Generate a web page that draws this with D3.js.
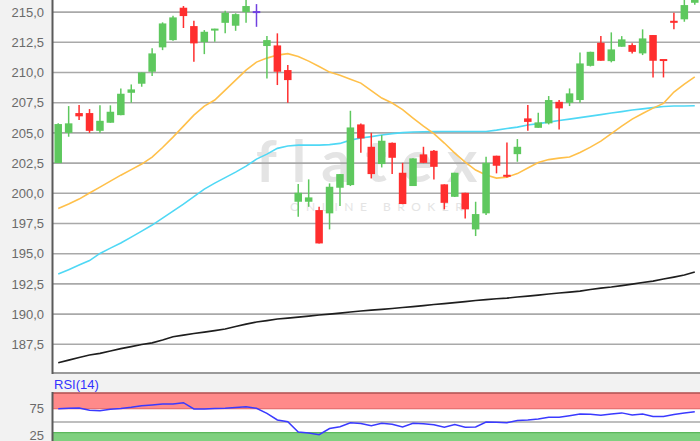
<!DOCTYPE html>
<html><head><meta charset="utf-8">
<script src="https://cdn.jsdelivr.net/npm/d3@7"></script>
<style>html,body{margin:0;padding:0;background:#f2f2f2;}svg{display:block;}</style>
</head><body><svg id="c" width="700" height="441"></svg>
<script>
const sessions = d3.range(62);
const open  = [202.5,205.0,206.64,206.64,205.17,205.84,206.47,208.32,209.07,210.06,212.08,212.68,215.36,213.84,212.52,213.5,214.11,213.87,215.0,215.0,212.19,212.24,210.2,199.3,199.3,198.61,198.34,200.46,200.68,205.7,203.85,202.42,204.18,201.7,200.6,203.22,203.52,200.74,199.71,200.04,197.01,198.34,203.11,201.45,203.24,206.2,205.42,205.79,207.57,207.49,207.72,210.55,212.46,210.94,212.13,212.27,211.58,213.1,211.03,214.28,214.4,215.77];
const high  = [205.8,207.22,207.3,206.97,207.28,207.28,208.68,209.01,210.0,212.0,214.15,214.7,215.5,214.28,213.51,213.62,215.1,214.9,216.2,215.66,213.01,213.24,210.61,200.76,201.15,198.88,200.82,201.6,206.83,205.78,205.01,204.82,204.2,202.52,202.9,203.85,203.58,200.74,201.7,200.04,199.3,203.02,203.11,204.21,204.49,207.3,206.66,208.05,207.72,208.68,211.66,211.72,213.01,213.32,213.01,212.41,213.57,213.1,211.03,214.94,216.1,216.7];
const low   = [202.5,204.68,206.06,205.0,205.0,205.84,206.47,207.5,208.82,209.7,211.85,212.63,213.68,210.89,211.52,212.54,213.24,213.45,214.11,213.78,209.51,208.96,207.49,198.05,198.88,195.85,197.01,198.94,200.6,203.35,201.23,202.14,201.59,199.1,200.6,202.5,201.15,198.67,199.7,197.92,196.46,198.2,201.65,201.3,202.61,205.17,205.42,205.7,205.29,207.22,207.5,210.5,210.97,210.84,212.13,211.58,211.44,209.59,209.59,213.57,214.2,215.6];
const close = [205.73,205.79,206.37,205.17,206.0,206.75,208.24,208.6,210.0,211.58,214.06,214.56,214.67,212.41,213.37,213.55,214.94,214.83,215.5,215.0,212.68,210.06,209.37,200.04,199.66,195.85,200.54,201.59,205.45,204.54,201.59,204.35,202.94,199.11,202.89,202.52,202.19,199.21,201.7,198.67,198.28,202.52,202.28,201.31,203.85,205.91,205.87,207.72,207.03,208.27,210.75,211.71,210.97,211.91,212.74,211.71,212.82,210.97,210.88,214.11,215.58,216.5];
const sma20 = [198.75,199.11,199.52,200.02,200.51,201.01,201.5,201.96,202.42,203.0,203.79,204.65,205.56,206.47,207.22,207.72,208.54,209.37,210.2,210.86,211.19,211.44,211.56,211.32,210.94,210.49,210.03,209.78,209.45,209.12,208.5,207.88,207.47,206.93,206.23,205.56,204.94,204.16,203.33,202.58,201.92,201.51,201.26,201.34,201.63,202.09,202.54,202.79,202.91,203.0,203.37,203.82,204.32,204.94,205.56,206.14,206.6,207.05,207.44,208.38,209.04,209.64];
const sma50 = [193.31,193.68,194.06,194.43,195.02,195.46,195.88,196.37,196.87,197.37,197.95,198.53,199.11,199.73,200.35,200.84,201.3,201.75,202.25,202.83,203.24,203.72,203.91,203.99,203.99,203.99,204.03,204.13,204.4,204.57,204.69,204.82,204.94,205.02,205.07,205.09,205.11,205.12,205.12,205.12,205.12,205.12,205.23,205.36,205.48,205.65,205.77,205.89,206.03,206.14,206.26,206.39,206.51,206.64,206.76,206.89,206.99,207.09,207.18,207.22,207.23,207.25];
const sma200 = [185.97,186.19,186.4,186.61,186.75,186.94,187.14,187.31,187.48,187.62,187.85,188.12,188.26,188.39,188.51,188.63,188.76,188.97,189.17,189.34,189.46,189.59,189.67,189.75,189.83,189.92,190.0,190.08,190.17,190.25,190.33,190.39,190.46,190.54,190.62,190.7,190.79,190.87,190.95,191.03,191.12,191.2,191.27,191.32,191.41,191.49,191.57,191.66,191.74,191.82,191.9,192.03,192.15,192.24,192.36,192.48,192.61,192.73,192.9,193.06,193.23,193.48];
const rsi = [75.1,76.0,76.6,72.1,71.3,74.0,75.5,77.7,80.6,82.1,84.0,84.0,86.4,74.5,74.5,75.5,76.0,77.4,78.7,75.8,66.4,53.8,50.6,31.1,29.2,26.0,37.7,41.1,48.7,47.2,43.0,47.7,45.8,40.6,47.5,46.6,44.9,40.0,45.3,40.0,40.6,50.0,49.4,48.7,52.8,53.8,55.7,59.1,59.1,61.9,65.1,64.5,62.6,65.1,67.2,63.2,65.1,60.4,60.4,64.2,67.0,69.4];
const yTicks = [187.5,190.0,192.5,195.0,197.5,200.0,202.5,205.0,207.5,210.0,212.5,215.0];
const rsiTicks = [75,25];
const rsiLabel = "RSI(14)";

const W = 700, H = 441;
const svg = d3.select("#c");
const fmt = d3.formatLocale({decimal:",",thousands:".",grouping:[3],currency:["","€"]}).format(".1f");

const mL = 53, mR = 700, mT = 0, mB = 373;
const x = d3.scaleBand().domain(sessions).range([mL, mR]).paddingInner(0.28).paddingOuter(0.14);
const y = d3.scaleLinear().domain([185, 216]).range([374.5, 0]);
const cx = i => x(i) + x.bandwidth()/2;

svg.append("rect").attr("x",0).attr("y",0).attr("width",W).attr("height",H).attr("fill","#f2f2f2");
svg.append("rect").attr("x",mL).attr("y",mT).attr("width",mR-mL).attr("height",mB-mT).attr("fill","#ffffff");
svg.append("clipPath").attr("id","mclip").append("rect").attr("x",mL).attr("y",mT).attr("width",mR-mL).attr("height",mB-mT);

// watermark
const wm = svg.append("g").attr("fill","#e4e4e4");
wm.append("text").attr("x",256).attr("y",182).attr("font-family","Lato, 'Open Sans', sans-serif").attr("font-weight",700).attr("font-size",58).attr("letter-spacing",15).text("flatex");
wm.append("text").attr("x",290).attr("y",211).attr("font-family","Lato, sans-serif").attr("font-size",12).attr("letter-spacing",6.5).text("ONLINE BROKER");

// gridlines
svg.append("g").selectAll("line").data(yTicks).join("line")
  .attr("x1",mL).attr("x2",mR).attr("y1",d=>y(d)).attr("y2",d=>y(d))
  .attr("stroke","#a9a9a9").attr("stroke-width",1.6);

svg.append("g").selectAll("text").data(yTicks).join("text")
  .attr("x",44).attr("y",d=>y(d)).attr("dy","0.36em").attr("text-anchor","end")
  .attr("font-family","'Liberation Sans', Arial, sans-serif").attr("font-size",13).attr("fill","#6a6a6a")
  .text(d=>fmt(d));

const plot = svg.append("g").attr("clip-path","url(#mclip)");
const line = arr => d3.line().x((d,i)=>cx(i)).y(d=>y(d))(arr);
plot.append("path").attr("d",line(sma200)).attr("fill","none").attr("stroke","#1e1e1e").attr("stroke-width",1.6);
plot.append("path").attr("d",line(sma50)).attr("fill","none").attr("stroke","#4fd8f5").attr("stroke-width",1.6);
plot.append("path").attr("d",line(sma20)).attr("fill","none").attr("stroke","#ffc04a").attr("stroke-width",1.6);

const col = i => close[i] > open[i] ? "#5ec85e" : (close[i] < open[i] ? "#ff2e2e" : "#7040e0");
const cg = plot.append("g");
cg.selectAll("line").data(sessions).join("line")
  .attr("x1",cx).attr("x2",cx).attr("y1",i=>y(high[i])).attr("y2",i=>y(low[i]))
  .attr("stroke",col).attr("stroke-width",1.5);
cg.selectAll("rect").data(sessions).join("rect")
  .attr("x",i=>x(i)).attr("width",x.bandwidth())
  .attr("y",i=>Math.min(y(open[i]),y(close[i])) - (Math.abs(y(open[i])-y(close[i]))<2?1:0))
  .attr("height",i=>Math.max(2,Math.abs(y(open[i])-y(close[i]))))
  .attr("fill",col);

svg.append("line").attr("x1",mL).attr("x2",mR).attr("y1",mB).attr("y2",mB).attr("stroke","#9a9a9a").attr("stroke-width",2);
svg.append("line").attr("x1",mL-0.5).attr("x2",mL-0.5).attr("y1",0).attr("y2",mB+1).attr("stroke","#5a5a5a").attr("stroke-width",2);

// RSI panel
const rT = 393;
const ry = d3.scaleLinear().domain([0,105]).range([448.5, 392.85]);
svg.append("rect").attr("x",mL).attr("y",rT).attr("width",mR-mL).attr("height",H-rT).attr("fill","#ffffff");
svg.append("rect").attr("x",mL).attr("y",ry(105)).attr("width",mR-mL).attr("height",ry(75)-ry(105)).attr("fill","#ff8a8a");
svg.append("line").attr("x1",mL).attr("x2",mR).attr("y1",ry(75)).attr("y2",ry(75)).attr("stroke","#e06060").attr("stroke-width",1.2);
svg.append("rect").attr("x",mL).attr("y",ry(30)).attr("width",mR-mL).attr("height",ry(0)-ry(30)).attr("fill","#7fd07f");
svg.append("line").attr("x1",mL).attr("x2",mR).attr("y1",ry(30)).attr("y2",ry(30)).attr("stroke","#5cb85c").attr("stroke-width",1.2);
svg.append("line").attr("x1",mL).attr("x2",mR).attr("y1",ry(50)).attr("y2",ry(50)).attr("stroke","#a9a9a9").attr("stroke-width",1.6);
svg.append("line").attr("x1",mL).attr("x2",mR).attr("y1",rT).attr("y2",rT).attr("stroke","#b05050").attr("stroke-width",1.5);
svg.append("path").attr("d",d3.line().x((d,i)=>cx(i)).y(d=>ry(d))(rsi)).attr("fill","none").attr("stroke","#3a3aff").attr("stroke-width",1.5);
svg.append("line").attr("x1",mL-0.5).attr("x2",mL-0.5).attr("y1",rT-1).attr("y2",H).attr("stroke","#5a5a5a").attr("stroke-width",2);
svg.append("g").selectAll("text").data(rsiTicks).join("text")
  .attr("x",44).attr("y",d=>ry(d)).attr("dy","0.36em").attr("text-anchor","end")
  .attr("font-family","'Liberation Sans', Arial, sans-serif").attr("font-size",13).attr("fill","#6a6a6a")
  .text(d=>d);
svg.append("text").attr("x",54).attr("y",389).attr("font-family","'Liberation Sans', Arial, sans-serif")
  .attr("font-size",13).attr("fill","#3333ff").text(rsiLabel);
</script></body></html>
